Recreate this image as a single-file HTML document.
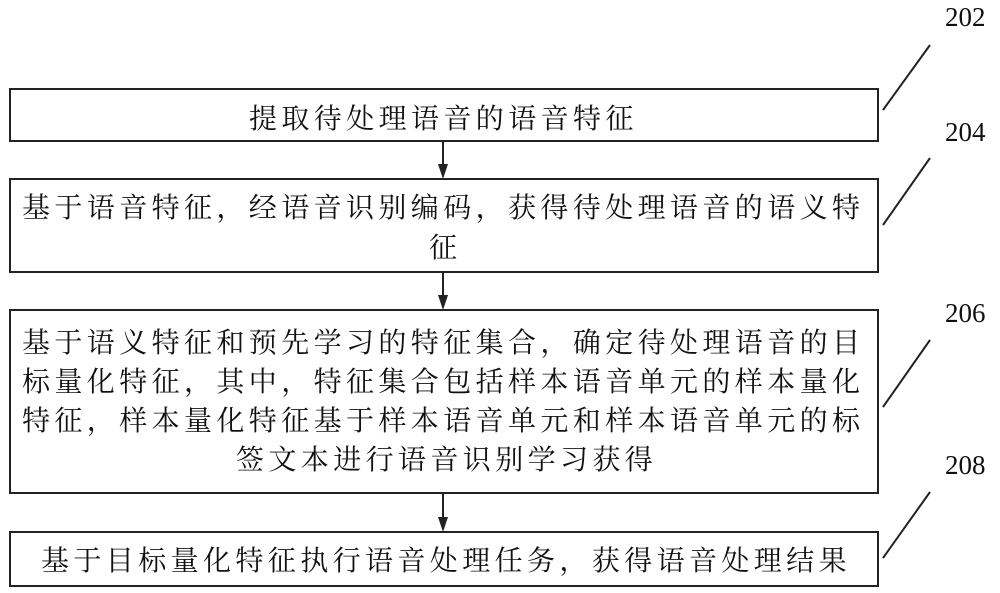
<!DOCTYPE html>
<html><head><meta charset="utf-8"><style>
html,body{margin:0;padding:0;background:#fff;}
body{width:1000px;height:593px;position:relative;overflow:hidden;font-family:"Liberation Serif","Noto Serif CJK SC",serif;color:#111;}
.box{position:absolute;left:9px;width:866px;border:2px solid #222;box-sizing:content-box;}
.t{position:absolute;font-size:28px;letter-spacing:4.4px;white-space:nowrap;}
.n{position:absolute;font-size:27px;font-family:"Liberation Serif",serif;}
</style></head><body>
<div class="box" style="top:88px;height:50px"></div>
<div class="box" style="top:178px;height:91px"></div>
<div class="box" style="top:309px;height:181px"></div>
<div class="box" style="top:531px;height:52px"></div>
<div class="t" style="left:249px;top:97px">提取待处理语音的语音特征</div>
<div class="t" style="left:22px;top:186px">基于语音特征，经语音识别编码，获得待处理语音的语义特</div>
<div class="t" style="left:429px;top:226px">征</div>
<div class="t" style="left:22px;top:321px">基于语义特征和预先学习的特征集合，确定待处理语音的目</div>
<div class="t" style="left:22px;top:360px">标量化特征，其中，特征集合包括样本语音单元的样本量化</div>
<div class="t" style="left:22px;top:399px">特征，样本量化特征基于样本语音单元和样本语音单元的标</div>
<div class="t" style="left:236px;top:438px">签文本进行语音识别学习获得</div>
<div class="t" style="left:41px;top:539px">基于目标量化特征执行语音处理任务，获得语音处理结果</div>
<div class="n" style="left:945px;top:2px">202</div>
<div class="n" style="left:945px;top:117px">204</div>
<div class="n" style="left:945px;top:298px">206</div>
<div class="n" style="left:945px;top:450px">208</div>
<svg width="1000" height="593" style="position:absolute;left:0;top:0">
<g stroke="#222" stroke-width="2">
<line x1="443" y1="140" x2="443" y2="168"/>
<line x1="443" y1="271" x2="443" y2="298"/>
<line x1="443" y1="492" x2="443" y2="520"/>
<line x1="930" y1="45" x2="883" y2="110"/>
<line x1="930" y1="158" x2="883" y2="225"/>
<line x1="930" y1="340" x2="883" y2="407"/>
<line x1="930" y1="492" x2="883" y2="558"/>
</g>
<g fill="#222">
<polygon points="438,164 448,164 443,179"/>
<polygon points="438,295 448,295 443,310"/>
<polygon points="438,517 448,517 443,532"/>
</g>
</svg>
</body></html>
